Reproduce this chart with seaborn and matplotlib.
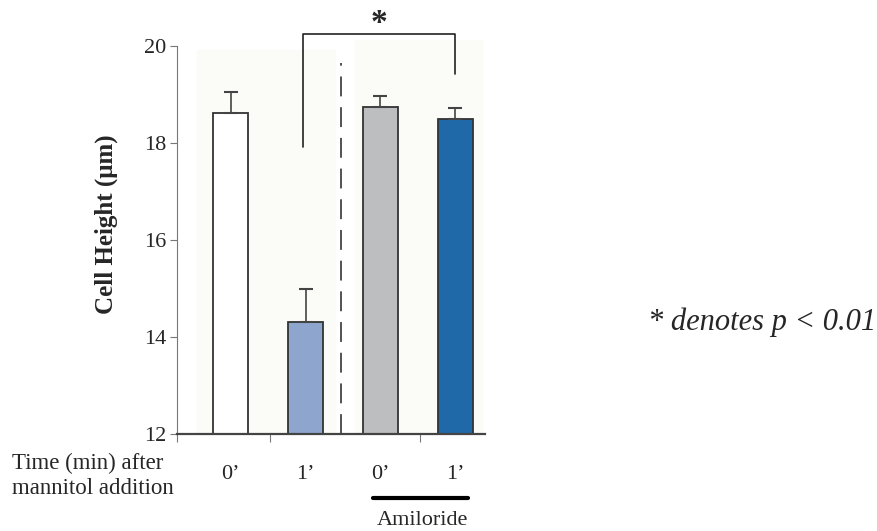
import matplotlib
matplotlib.use("Agg")
import matplotlib.pyplot as plt
import seaborn as sns
import pandas as pd

categories = ["Control 0'", "Control 1'", "Amiloride 0'", "Amiloride 1'"]
tick_labels = ["0\u2019", "1\u2019", "0\u2019", "1\u2019"]
heights = [18.62, 14.31, 18.74, 18.50]
sem_up = [0.43, 0.68, 0.23, 0.22]
bar_colors = ["#FFFFFF", "#8EA6CD", "#BDBEC0", "#1F69A8"]
yticks = [12, 14, 16, 18, 20]

sns.set_style("white")
plt.rcParams['font.family'] = ['Liberation Serif', 'DejaVu Serif']

fig = plt.figure(figsize=(8.77, 5.31), dpi=100)
ax = fig.add_axes([177/877, 1 - 434/531, (485-177)/877, (434-7)/531])

df = pd.DataFrame({"group": categories, "height": heights})
sns.barplot(data=df, x="group", y="height", hue="group", palette=bar_colors,
            order=categories, hue_order=categories, legend=False, width=0.47,
            saturation=1, edgecolor="#333333", linewidth=1.3, errorbar=None, ax=ax)

xs = list(range(len(categories)))
ax.errorbar(xs, heights, yerr=[[0]*len(heights), sem_up], fmt="none",
            ecolor="#444444", elinewidth=1.2, capsize=5, capthick=1.5, zorder=3)

ax.set_ylim(12, 20.8)
ax.set_xlim(-0.72, 3.40)

# very faint background panels
ax.axvspan(-0.45, 1.39, ymin=0, ymax=(19.92 - 12) / 8.8, color="#FBFBF7", zorder=0)
ax.axvspan(1.66, 3.36, ymin=0, ymax=(20.12 - 12) / 8.8, color="#FBFBF7", zorder=0)

for s in ["top", "right"]:
    ax.spines[s].set_visible(False)
ax.spines["left"].set_bounds(12, 20)
ax.spines["left"].set_color("#777777")
ax.spines["left"].set_linewidth(0.8)
ax.spines["bottom"].set_color("#444444")
ax.spines["bottom"].set_linewidth(1.6)

ax.set_yticks(yticks)
ax.set_yticklabels([str(t) for t in yticks], fontsize=16)
ax.tick_params(axis="y", direction="out", length=5, width=0.8, color="#777777", pad=3, left=True)
ax.set_xticks(xs)
ax.set_xticklabels(tick_labels, fontsize=16)
ax.tick_params(axis="x", which="major", length=0, pad=22)
ax.set_xticks([-0.715, 0.52, 2.53], minor=True)
ax.tick_params(axis="x", which="minor", bottom=True, direction="out", length=6, width=0.8, color="#777777")
ax.set_xlabel("")
ax.set_ylabel("Cell Height (\u03bcm)", fontsize=18, fontweight="bold")
ax.yaxis.set_label_coords((118 - 177) / 308, (434 - 224) / 427)

# dashed separator
ax.plot([1.47, 1.47], [12, 19.65], color="#444444", linestyle=(0, (11, 6)), linewidth=1.3, zorder=1)

# significance bracket
ax.plot([0.97, 0.97, 3.0, 3.0], [17.92, 20.24, 20.24, 19.42], color="#222222",
        linewidth=1.2, clip_on=False)
ax.text(1.98, 20.47, "*", ha="center", va="center", fontsize=24, fontweight="bold")

# amiloride bar and label
ax.plot([1.90, 3.17], [10.68, 10.68], color="black", linewidth=3, clip_on=False)
ax.text(2.56, 10.22, "Amiloride", ha="center", va="center", fontsize=16)

fig.text(12/877, 1 - 476/531, "Time (min) after\nmannitol addition", ha="left", va="center",
         fontsize=16.5, linespacing=1.25)
fig.text(762/877, 1 - 322/531, "* denotes p < 0.01", ha="center", va="center",
         fontsize=22, style="italic")

fig.savefig("out.png", dpi=100)
